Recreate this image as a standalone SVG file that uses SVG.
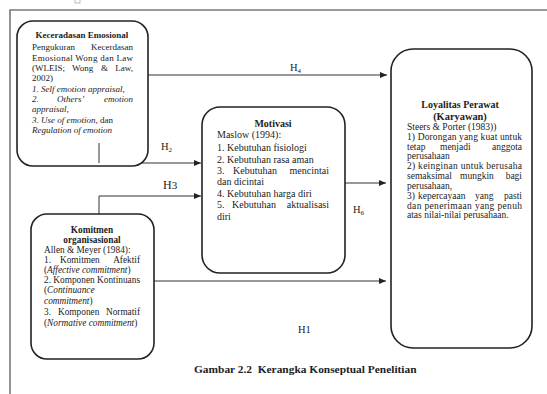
<svg xmlns="http://www.w3.org/2000/svg" width="547" height="394" viewBox="0 0 547 394">
<defs>
<marker id="ah" markerWidth="8" markerHeight="6" refX="7" refY="3" orient="auto" markerUnits="userSpaceOnUse"><path d="M0,0 L7,3 L0,6 z" fill="#222"/></marker>
<style>
text{font-family:"Liberation Serif","Times New Roman",serif;fill:#222}
.b{font-weight:bold}
.i{font-style:italic}
.box{fill:#fff;stroke:#222;stroke-width:1.6}
.c{fill:none;stroke:#333;stroke-width:1}
.e{text-anchor:end}
.m{text-anchor:middle}
.k{font-size:9px}
.mo{font-size:10px}
.ko{font-size:9.3px}
.lo{font-size:9.5px}
.h{font-size:10.5px}
</style>
</defs>
<rect width="547" height="394" fill="#fff"/>
<g id="frame">
<path d="M10,394 V10 H547" fill="none" stroke="#7a7a7a" stroke-width="1.6"/>
<rect x="75" y="-2" width="5" height="5" fill="none" stroke="#aaa" stroke-width="0.8"/>
</g>
<g id="connectors">
<path class="c" d="M148,75 H387" marker-end="url(#ah)"/>
<path class="c" d="M99,143 V163 H201" marker-end="url(#ah)"/>
<path class="c" d="M99,214 V196 H201" marker-end="url(#ah)"/>
<path class="c" d="M345,183 H386" marker-end="url(#ah)"/>
<path class="c" d="M154,281 H386" marker-end="url(#ah)"/>
<text class="h" x="290" y="71">H<tspan font-size="7" dy="2">4</tspan></text>
<text class="h" x="161" y="150">H<tspan font-size="7" dy="2">2</tspan></text>
<text x="163" y="189" font-size="12">H<tspan font-size="11">3</tspan></text>
<text class="h" x="353" y="213">H<tspan font-size="7" dy="2">6</tspan></text>
<text class="h" x="298" y="333">H1</text>
</g>
<g id="kecerdasan" class="k">
<rect class="box" x="17" y="21" width="131" height="145" rx="16"/>
<text class="b m" x="82" y="38">Keceradasan Emosional</text>
<text x="32" y="50">Pengukuran</text><text class="e" x="133" y="50">Kecerdasan</text>
<text x="32" y="61" textLength="101" lengthAdjust="spacing">Emosional Wong dan Law</text>
<text x="32" y="71">(WLEIS;</text><text x="72" y="71">Wong</text><text x="101" y="71">&amp;</text><text class="e" x="133" y="71">Law,</text>
<text x="32" y="81">2002)</text>
<text class="i" x="32" y="92">1. Self emotion appraisal,</text>
<text class="i" x="32" y="102">2.</text><text class="i" x="57" y="102">Others’</text><text class="i e" x="133" y="102">emotion</text>
<text class="i" x="32" y="112">appraisal,</text>
<text x="32" y="123"><tspan class="i">3. Use of emotion,</tspan> dan</text>
<text class="i" x="32" y="133">Regulation of emotion</text>
<path class="c" d="M99,143 V163"/>
</g>
<g id="motivasi" class="mo">
<rect class="box" x="202" y="107" width="143" height="166" rx="18"/>
<text class="b m" x="273" y="127">Motivasi</text>
<text x="217" y="138">Maslow (1994):</text>
<text x="217" y="151">1. Kebutuhan fisiologi</text>
<text x="217" y="163">2. Kebutuhan rasa aman</text>
<text x="217" y="174">3.</text><text x="233" y="174">Kebutuhan</text><text class="e" x="329" y="174">mencintai</text>
<text x="217" y="185">dan dicintai</text>
<text x="217" y="197">4. Kebutuhan harga diri</text>
<text x="217" y="208">5.</text><text x="232" y="208">Kebutuhan</text><text class="e" x="329" y="208">aktualisasi</text>
<text x="217" y="220">diri</text>
</g>
<g id="komitmen" class="ko">
<rect class="box" x="31" y="214" width="123" height="145" rx="16"/>
<text class="b m" x="92" y="233">Komitmen</text>
<text class="b m" x="92" y="243">organisasional</text>
<text x="44" y="253">Allen &amp; Meyer (1984):</text>
<text x="44" y="263">1.</text><text x="60" y="263">Komitmen</text><text class="e" x="140" y="263">Afektif</text>
<text x="44" y="273">(<tspan class="i">Affective commitment</tspan>)</text>
<text x="44" y="283" textLength="96" lengthAdjust="spacing">2. Komponen Kontinuans</text>
<text x="44" y="293">(<tspan class="i">Continuance</tspan></text>
<text x="44" y="304"><tspan class="i">commitment</tspan>)</text>
<text x="44" y="315">3.</text><text x="58" y="315">Komponen</text><text class="e" x="140" y="315">Normatif</text>
<text x="44" y="326">(<tspan class="i">Normative commitment</tspan>)</text>
</g>
<g id="loyalitas" class="lo">
<rect class="box" x="391" y="49" width="141" height="299" rx="22"/>
<text class="b m" x="460" y="108" font-size="10">Loyalitas Perawat</text>
<text class="b m" x="460" y="120" font-size="10.4">(Karyawan)</text>
<text x="407" y="130">Steers &amp; Porter (1983))</text>
<text x="407" y="140" textLength="115" lengthAdjust="spacing">1) Dorongan yang kuat untuk</text>
<text x="407" y="150">tetap</text><text x="440" y="150">menjadi</text><text class="e" x="522" y="150">anggota</text>
<text x="407" y="159">perusahaan</text>
<text x="407" y="169" textLength="115" lengthAdjust="spacing">2) keinginan untuk berusaha</text>
<text x="407" y="179">semaksimal</text><text x="460" y="179">mungkin</text><text class="e" x="522" y="179">bagi</text>
<text x="407" y="189">perusahaan,</text>
<text x="407" y="199">3)</text><text x="418" y="199">kepercayaan</text><text x="475" y="199">yang</text><text class="e" x="522" y="199">pasti</text>
<text x="407" y="209" textLength="115" lengthAdjust="spacing">dan penerimaan yang penuh</text>
<text x="407" y="218">atas nilai-nilai perusahaan.</text>
</g>
<g id="caption">
<text class="b" x="194" y="373" font-size="11.4" xml:space="preserve">Gambar 2.2  Kerangka Konseptual Penelitian</text>
</g>
</svg>
